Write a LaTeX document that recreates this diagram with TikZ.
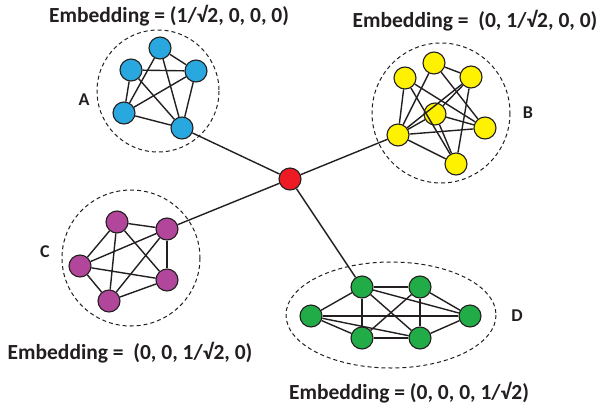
\documentclass[tikz,border=0pt]{standalone}
\usepackage{fontspec}
\setmainfont{Carlito}
\definecolor{cblue}{RGB}{41,168,224}
\definecolor{cyellow}{RGB}{255,242,0}
\definecolor{cpurple}{RGB}{178,70,155}
\definecolor{cgreen}{RGB}{34,172,72}
\definecolor{cred}{RGB}{237,28,36}
\definecolor{cline}{RGB}{35,31,32}
\tikzset{
  vtx/.style={circle,draw=cline,line width=1.1pt,minimum size=22pt,inner sep=0pt},
  bv/.style={vtx,fill=cblue},
  yv/.style={vtx,fill=cyellow},
  pv/.style={vtx,fill=cpurple},
  gv/.style={vtx,fill=cgreen},
  rv/.style={vtx,fill=cred},
  edge/.style={draw=cline,line width=1.4pt},
  group/.style={draw=cline,line width=1pt,dash pattern=on 4pt off 3pt},
  ttl/.style={font=\bfseries\fontsize{21.5}{24}\selectfont,text=cline,inner sep=0pt},
  lbl/.style={font=\bfseries\fontsize{18}{21}\selectfont,text=cline,inner sep=0pt}
}
\begin{document}
\begin{tikzpicture}[x=1pt,y=-1pt]
\useasboundingbox (0,0) rectangle (600,413);
% groups
\draw[group] (158,91) circle (61);
\draw[group] (441,113) ellipse (69 and 70);
\draw[group] (131,258) ellipse (69 and 68);
\draw[group] (391,315) ellipse (105 and 53);
% center
\node[rv] (c) at (290,179) {};
% A
\node[bv] (a1) at (160,48) {};
\node[bv] (a2) at (131,70) {};
\node[bv] (a3) at (196,71) {};
\node[bv] (a4) at (124,113) {};
\node[bv] (a5) at (182,128) {};
\foreach \u/\v in {a1/a3,a1/a4,a1/a5,a2/a3,a2/a4,a2/a5,a3/a4,a3/a5,a4/a5}
  \draw[edge] (\u) -- (\v);
% B
\node[yv] (b1) at (434,63) {};
\node[yv] (b2) at (405,78) {};
\node[yv] (b3) at (471,77) {};
\node[yv] (b4) at (435,114) {};
\node[yv] (b5) at (485,128) {};
\node[yv] (b6) at (398,135) {};
\node[yv] (b7) at (456,164) {};
\foreach \u/\v in {b1/b3,b1/b6,b1/b5,b2/b6,b2/b5,b2/b7,b3/b6,b3/b4,b3/b7,b4/b6,b4/b5,b4/b7,b6/b5,b6/b7}
  \draw[edge] (\u) -- (\v);
% C
\node[pv] (p1) at (117,222) {};
\node[pv] (p2) at (167,229) {};
\node[pv] (p3) at (80,266) {};
\node[pv] (p4) at (167,280) {};
\node[pv] (p5) at (109,301) {};
\foreach \u/\v in {p1/p2,p1/p3,p1/p4,p1/p5,p2/p3,p2/p4,p2/p5,p3/p4,p3/p5,p4/p5}
  \draw[edge] (\u) -- (\v);
% D
\node[gv] (d1) at (311,316) {};
\node[gv] (d2) at (362,287) {};
\node[gv] (d3) at (420,287) {};
\node[gv] (d4) at (470,316) {};
\node[gv] (d5) at (362,338) {};
\node[gv] (d6) at (420,338) {};
\foreach \u/\v in {d1/d2,d1/d4,d1/d5,d1/d6,d2/d3,d2/d5,d2/d6,d2/d4,d3/d5,d3/d6,d3/d4,d5/d6,d6/d4}
  \draw[edge] (\u) -- (\v);
% links to center
\draw[edge] (a5) -- (c);
\draw[edge] (b6) -- (c);
\draw[edge] (p2) -- (c);
\draw[edge] (d2) -- (c);
% labels
\node[lbl] (la) at (84,100) {A};
\node[lbl] (lb) at (528,113) {B};
\node[lbl] (lc) at (45,252) {C};
\node[lbl] (ld) at (517,316) {D};
\node[ttl] (ta) at (169,16) {Embedding = (1/√2, 0, 0, 0)};
\node[ttl] (tb) at (475,21) {Embedding =~ (0, 1/√2, 0, 0)};
\node[ttl] (tc) at (130,353) {Embedding =~ (0, 0, 1/√2, 0)};
\node[ttl] (td) at (409,393) {Embedding = (0, 0, 0, 1/√2)};
\end{tikzpicture}
\end{document}
